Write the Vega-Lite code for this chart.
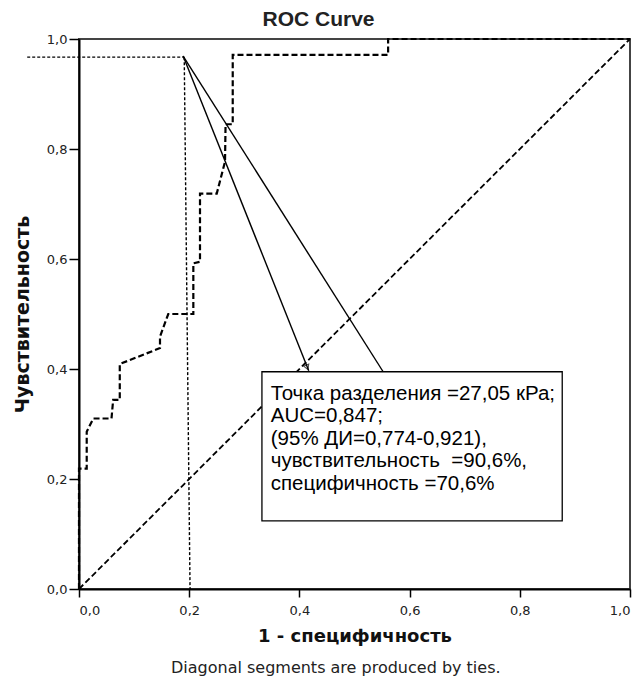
{
  "$schema": "https://vega.github.io/schema/vega-lite/v6.json",
  "width": 551,
  "height": 550,
  "autosize": "none",
  "padding": {"left": 79, "top": 39, "right": 14, "bottom": 95},
  "background": "white",
  "title": {"text": "ROC Curve", "font": "Liberation Sans", "fontSize": 21, "fontWeight": "bold", "color": "#222", "anchor": "middle", "dx": -36, "dy": 28, "offset": 10, "baseline": "bottom"},
  "config": {
    "view": {"stroke": "#444", "strokeWidth": 2},
    "axis": {
      "grid": false,
      "domainColor": "#000",
      "domainWidth": 2,
      "tickColor": "#000",
      "tickWidth": 1.5,
      "labelFont": "DejaVu Sans",
      "labelFontSize": 13,
      "labelColor": "#222",
      "titleFont": "DejaVu Sans",
      "titleFontWeight": "bold",
      "titleFontSize": 18,
      "titleColor": "#111"
    }
  },
  "datasets": {
    "diag": [{"x": 0, "y": 0, "o": 0}, {"x": 1, "y": 1, "o": 1}],
    "roc": [
      {"x": 0, "y": 0, "o": 0},
      {"x": 0, "y": 0.219, "o": 1},
      {"x": 0.014, "y": 0.219, "o": 2},
      {"x": 0.014, "y": 0.286, "o": 3},
      {"x": 0.026, "y": 0.31, "o": 4},
      {"x": 0.059, "y": 0.31, "o": 5},
      {"x": 0.062, "y": 0.344, "o": 6},
      {"x": 0.074, "y": 0.344, "o": 7},
      {"x": 0.074, "y": 0.409, "o": 8},
      {"x": 0.147, "y": 0.438, "o": 9},
      {"x": 0.147, "y": 0.459, "o": 10},
      {"x": 0.162, "y": 0.5, "o": 11},
      {"x": 0.2075, "y": 0.5, "o": 12},
      {"x": 0.2075, "y": 0.592, "o": 13},
      {"x": 0.2196, "y": 0.595, "o": 14},
      {"x": 0.2196, "y": 0.719, "o": 15},
      {"x": 0.25, "y": 0.719, "o": 16},
      {"x": 0.265, "y": 0.777, "o": 17},
      {"x": 0.266, "y": 0.845, "o": 18},
      {"x": 0.279, "y": 0.845, "o": 19},
      {"x": 0.279, "y": 0.971, "o": 20},
      {"x": 0.561, "y": 0.971, "o": 21},
      {"x": 0.561, "y": 1, "o": 22},
      {"x": 1, "y": 1, "o": 23}
    ],
    "dotted": [
      {"s": "h", "x": -0.094, "y": 0.967, "o": 0},
      {"s": "h", "x": 0.191, "y": 0.967, "o": 1},
      {"s": "v", "x": 0.191, "y": 0.967, "o": 0},
      {"s": "v", "x": 0.2015, "y": 0, "o": 1}
    ],
    "ann": [
      {"s": "a", "x": 0.189, "y": 0.969, "o": 0},
      {"s": "a", "x": 0.417, "y": 0.397, "o": 1},
      {"s": "b", "x": 0.189, "y": 0.969, "o": 0},
      {"s": "b", "x": 0.552, "y": 0.395, "o": 1}
    ],
    "box": [{"x": 0.332, "x2": 0.877, "y": 0.395, "y2": 0.124}],
    "label": [{"x": 0.348, "y": 0.373, "t": "Точка разделения =27,05 кРа;\nAUC=0,847;\n(95% ДИ=0,774-0,921),\nчувствительность \u00a0=90,6%,\nспецифичность =70,6%"}],
    "footer": [{"x": 0.466, "y": -0.144, "t": "Diagonal segments are produced by ties."}],
    "arrow": [{"x": 0.414, "y": 0.403}]
  },
  "layer": [
    {
      "data": {"name": "diag"},
      "mark": {"type": "line", "color": "#000", "strokeWidth": 1.8, "strokeDash": [6, 3]},
      "encoding": {
        "x": {"field": "x", "type": "quantitative", "scale": {"domain": [0, 1], "nice": false, "zero": false},
          "axis": {"values": [0, 0.2, 0.4, 0.6, 0.8, 1], "labelExpr": "replace(format(datum.value, '.1f'), '.', ',')", "tickSize": 8, "labelPadding": 7, "title": "1 - специфичность", "titlePadding": 10}},
        "y": {"field": "y", "type": "quantitative", "scale": {"domain": [0, 1], "nice": false, "zero": false},
          "axis": {"values": [0, 0.2, 0.4, 0.6, 0.8, 1], "labelExpr": "replace(format(datum.value, '.1f'), '.', ',')", "tickSize": 10, "labelPadding": 2, "title": "Чувствительность", "titleFontSize": 19, "titlePadding": 14}},
        "order": {"field": "o", "type": "quantitative"}
      }
    },
    {
      "data": {"name": "roc"},
      "mark": {"type": "line", "color": "#000", "strokeWidth": 2.2, "strokeDash": [6, 3]},
      "encoding": {
        "x": {"field": "x", "type": "quantitative"},
        "y": {"field": "y", "type": "quantitative"},
        "order": {"field": "o", "type": "quantitative"}
      }
    },
    {
      "data": {"name": "dotted"},
      "mark": {"type": "line", "color": "#000", "strokeWidth": 1.4, "strokeDash": [3, 2]},
      "encoding": {
        "x": {"field": "x", "type": "quantitative"},
        "y": {"field": "y", "type": "quantitative"},
        "detail": {"field": "s"},
        "order": {"field": "o", "type": "quantitative"}
      }
    },
    {
      "data": {"name": "ann"},
      "mark": {"type": "line", "color": "#000", "strokeWidth": 1.4},
      "encoding": {
        "x": {"field": "x", "type": "quantitative"},
        "y": {"field": "y", "type": "quantitative"},
        "detail": {"field": "s"},
        "order": {"field": "o", "type": "quantitative"}
      }
    },
    {
      "data": {"name": "arrow"},
      "mark": {"type": "point", "shape": "triangle-down", "size": 30, "filled": false, "color": "#000", "strokeWidth": 1, "angle": 338},
      "encoding": {
        "x": {"field": "x", "type": "quantitative"},
        "y": {"field": "y", "type": "quantitative"}
      }
    },
    {
      "data": {"name": "box"},
      "mark": {"type": "rect", "fill": "#fff", "stroke": "#000", "strokeWidth": 1.3},
      "encoding": {
        "x": {"field": "x", "type": "quantitative"},
        "x2": {"field": "x2"},
        "y": {"field": "y", "type": "quantitative"},
        "y2": {"field": "y2"}
      }
    },
    {
      "data": {"name": "label"},
      "mark": {"type": "text", "align": "left", "baseline": "top", "font": "Liberation Sans", "fontSize": 20.5, "lineHeight": 22.5, "lineBreak": "\n", "color": "#000"},
      "encoding": {
        "x": {"field": "x", "type": "quantitative"},
        "y": {"field": "y", "type": "quantitative"},
        "text": {"field": "t"}
      }
    },
    {
      "data": {"name": "footer"},
      "mark": {"type": "text", "align": "center", "baseline": "middle", "font": "DejaVu Sans", "fontSize": 16, "color": "#222"},
      "encoding": {
        "x": {"field": "x", "type": "quantitative"},
        "y": {"field": "y", "type": "quantitative"},
        "text": {"field": "t"}
      }
    }
  ]
}
